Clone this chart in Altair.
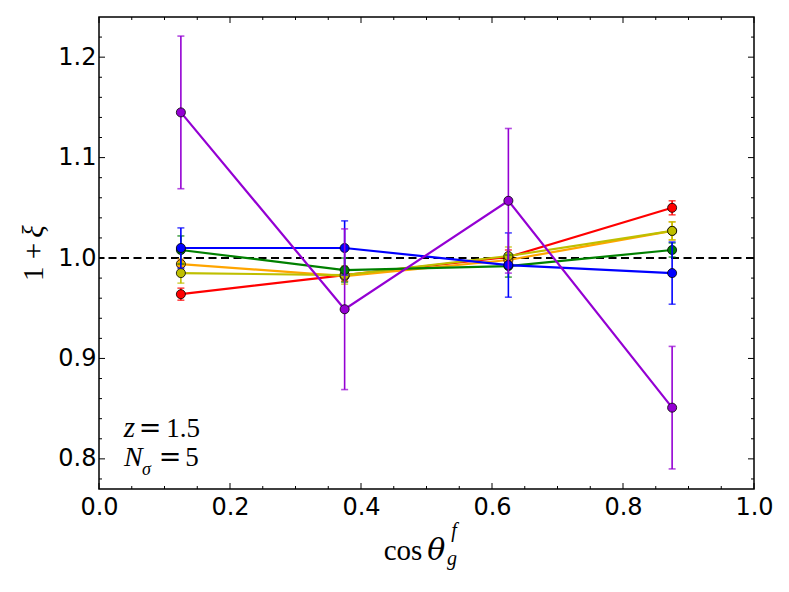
import altair as alt
import pandas as pd

# ---- data ----
x_vals = [0.125, 0.375, 0.625, 0.875]

series_names = ["red", "orange", "yellow", "green", "blue", "purple"]
series_colors = ["#ff0000", "#ffa500", "#bfbf00", "#008000", "#0000ff", "#9400d3"]

red_y = [0.964, 0.983, 1.001, 1.050]
red_err = [0.006, 0.006, 0.007, 0.007]
orange_y = [0.994, 0.982, 0.998, 1.027]
orange_err = [0.005, 0.005, 0.006, 0.009]
yellow_y = [0.985, 0.983, 1.002, 1.027]
yellow_err = [0.010, 0.009, 0.009, 0.009]
green_y = [1.008, 0.988, 0.992, 1.008]
green_err = [0.014, 0.012, 0.011, 0.007]
blue_y = [1.010, 1.010, 0.993, 0.985]
blue_err = [0.020, 0.027, 0.032, 0.031]
purple_y = [1.145, 0.949, 1.057, 0.851]
purple_err = [0.076, 0.080, 0.072, 0.061]

series_y = [red_y, orange_y, yellow_y, green_y, blue_y, purple_y]
series_err = [red_err, orange_err, yellow_err, green_err, blue_err, purple_err]

ref_level = [1.0]

x_major = [0.0, 0.2, 0.4, 0.6, 0.8, 1.0]
x_minor = [0.05, 0.1, 0.15, 0.25, 0.3, 0.35, 0.45, 0.5, 0.55, 0.65, 0.7, 0.75, 0.85, 0.9, 0.95]
y_major = [0.8, 0.9, 1.0, 1.1, 1.2]
y_minor = [0.78, 0.82, 0.84, 0.86, 0.88, 0.92, 0.94, 0.96, 0.98, 1.02, 1.04, 1.06,
           1.08, 1.12, 1.14, 1.16, 1.18, 1.22]

W, H = 655, 472
xscale = alt.Scale(domain=[0.0, 1.0], nice=False, zero=False)
yscale = alt.Scale(domain=[0.77, 1.24], nice=False, zero=False)

x_axis = alt.Axis(values=x_major, format=".1f", tickSize=0, domain=False, grid=False,
                  labelFont="DejaVu Sans", labelFontSize=24, labelColor="black",
                  labelPadding=6, title=None, labelFlush=False)
y_axis = alt.Axis(values=y_major, format=".1f", tickSize=0, domain=False, grid=False,
                  labelFont="DejaVu Sans", labelFontSize=24, labelColor="black",
                  labelPadding=3, title=None, labelFlush=False)


def X(field):
    return alt.X(field, scale=xscale, axis=x_axis)


def Y(field):
    return alt.Y(field, scale=yscale, axis=y_axis)


layers = []

# dashed reference line
layers.append(
    alt.Chart(pd.DataFrame({"ref": ref_level}))
    .mark_rule(color="black", strokeWidth=2.2, strokeDash=[8, 4.5])
    .encode(y=Y("ref:Q"))
)

for name, col, ys, es in zip(series_names, series_colors, series_y, series_err):
    df = pd.DataFrame({"x": x_vals, "y": ys, "err": es})
    base = alt.Chart(df).transform_calculate(lo="datum.y - datum.err", hi="datum.y + datum.err")
    line = base.mark_line(color=col, strokeWidth=2.2).encode(x=X("x:Q"), y=Y("y:Q"))
    bar = base.mark_rule(color=col, strokeWidth=1.6).encode(x=X("x:Q"), y=Y("lo:Q"), y2="hi:Q")
    cap_lo = base.mark_tick(color=col, orient="horizontal", size=7, thickness=1.6).encode(
        x=X("x:Q"), y=Y("lo:Q"))
    cap_hi = base.mark_tick(color=col, orient="horizontal", size=7, thickness=1.6).encode(
        x=X("x:Q"), y=Y("hi:Q"))
    pts = base.mark_circle(fill=col, stroke="black", strokeWidth=0.8, size=82, opacity=1).encode(
        x=X("x:Q"), y=Y("y:Q"))
    layers += [line, bar, cap_lo, cap_hi, pts]


# inward ticks on all four sides
def xticks(vals, length):
    d = pd.DataFrame({"v": vals})
    bot = alt.Chart(d).mark_rule(color="black", strokeWidth=1).encode(
        x=X("v:Q"), y=alt.value(H), y2=alt.value(H - length))
    top = alt.Chart(d).mark_rule(color="black", strokeWidth=1).encode(
        x=X("v:Q"), y=alt.value(0), y2=alt.value(length))
    return [bot, top]


def yticks(vals, length):
    d = pd.DataFrame({"v": vals})
    left = alt.Chart(d).mark_rule(color="black", strokeWidth=1).encode(
        y=Y("v:Q"), x=alt.value(0), x2=alt.value(length))
    right = alt.Chart(d).mark_rule(color="black", strokeWidth=1).encode(
        y=Y("v:Q"), x=alt.value(W), x2=alt.value(W - length))
    return [left, right]


layers += xticks(x_major, 6) + xticks(x_minor, 3) + yticks(y_major, 6) + yticks(y_minor, 3)


# text pieces
def txt(s, x, y, size, font="Liberation Serif", style="normal", angle=0, baseline="alphabetic"):
    return alt.Chart(pd.DataFrame({"t": [s]})).mark_text(
        font=font, fontSize=size, fontStyle=style, align="center", baseline=baseline,
        angle=angle, color="black"
    ).encode(text="t:N", x=alt.value(x), y=alt.value(y))


layers += [
    txt("z", 30.5, 420, 29, style="italic"),
    txt("=", 51, 420, 27, font="DejaVu Serif"),
    txt("1.5", 84, 420, 27),
    txt("N", 34.3, 449.4, 28, style="italic"),
    txt("σ", 47.5, 458, 18, style="italic"),
    txt("=", 71, 449.4, 27, font="DejaVu Serif"),
    txt("5", 93, 449.4, 27),
    # x title: cos θ_g^f
    txt("cos", 304, 542.7, 29),
    txt("θ", 337.3, 542.7, 30, font="DejaVu Serif", style="italic"),
    txt("f", 355, 520, 20, style="italic"),
    txt("g", 353, 548, 20, style="italic"),
    # y title: 1+ξ
    txt("1 +", -56, 245, 29, angle=270),
    txt("ξ", -56, 214.5, 29, style="italic", angle=270),
]

chart = alt.layer(*layers).properties(
    width=W, height=H,
    background="white",
    autosize=alt.AutoSizeParams(type="none"),
    padding={"left": 91, "top": 9, "right": 27, "bottom": 95},
).configure_view(stroke="black", strokeWidth=1.5)

chart.save("out.html", embed_options={"renderer": "svg", "actions": False})
